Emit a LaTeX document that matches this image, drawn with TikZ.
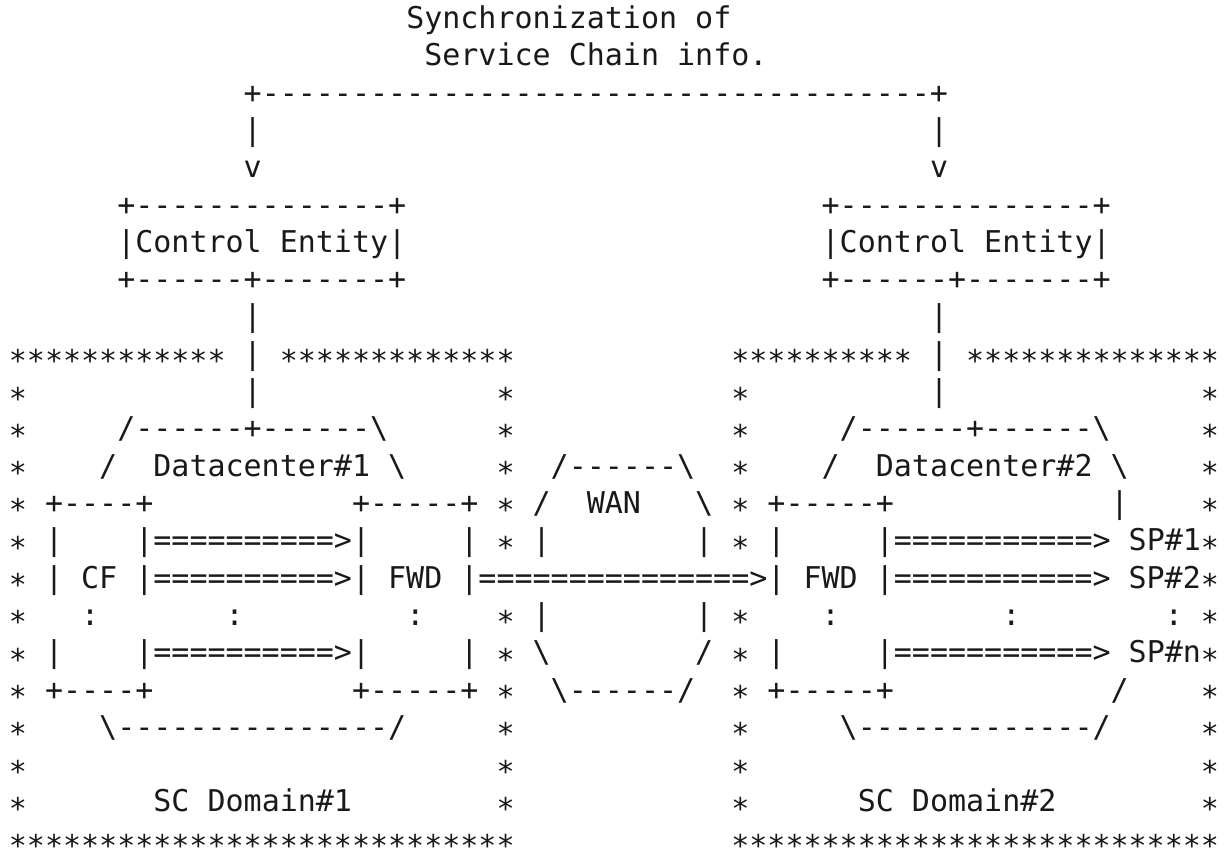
\documentclass[tikz,border=0pt]{standalone}
\usepackage{fontspec}
\setmonofont{DejaVu Sans Mono}
\ExplSyntaxOn
\newcommand\RP[2]{\prg_replicate:nn{#1}{#2}}
\ExplSyntaxOff
\newcommand\SP[1]{\kern#1\fontcharwd\font`x\relax}
\newcommand\B{\textbackslash}
\newcommand\ST{\raisebox{-0.25em}[0.5em][0pt]{*}}
\tikzset{ln/.style={anchor=base west, inner sep=0pt, text=black!90, font=\ttfamily\fontsize{15pt}{18.65pt}\selectfont}}
\begin{document}
\begin{tikzpicture}
\useasboundingbox[fill=white] (0,0) rectangle (613pt,-432.5pt);
\node[ln] (l1) at (4.25pt,-14.30pt) {\SP{22}Synchronization of};
\node[ln] (l2) at (4.25pt,-32.95pt) {\SP{23}Service Chain info.};
\node[ln] (l3) at (4.25pt,-51.60pt) {\SP{13}+\RP{37}{-}+};
\node[ln] (l4) at (4.25pt,-70.25pt) {\SP{13}|\SP{37}|};
\node[ln] (l5) at (4.25pt,-88.90pt) {\SP{13}v\SP{37}v};
\node[ln] (l6) at (4.25pt,-107.55pt) {\SP6+\RP{14}{-}+\SP{23}+\RP{14}{-}+};
\node[ln] (l7) at (4.25pt,-126.20pt) {\SP6|Control Entity|\SP{23}|Control Entity|};
\node[ln] (l8) at (4.25pt,-144.85pt) {\SP6+------+-------+\SP{23}+------+-------+};
\node[ln] (l9) at (4.25pt,-163.50pt) {\SP{13}|\SP{37}|};
\node[ln] (l10) at (4.25pt,-182.15pt) {\RP{12}{\ST}\SP1|\SP1\RP{13}{\ST}\SP{12}\RP{10}{\ST}\SP1|\SP1\RP{14}{\ST}};
\node[ln] (l11) at (4.25pt,-200.80pt) {\ST\SP{12}|\SP{13}\ST\SP{12}\ST\SP{10}|\SP{14}\ST};
\node[ln] (l12) at (4.25pt,-219.45pt) {\ST\SP5/------+------\B\SP6\ST\SP{12}\ST\SP5/------+------\B\SP5\ST};
\node[ln] (l13) at (4.25pt,-238.10pt) {\ST\SP4/\SP2Datacenter\#1\SP1\B\SP5\ST\SP2/------\B\SP2\ST\SP4/\SP2Datacenter\#2\SP1\B\SP4\ST};
\node[ln] (l14) at (4.25pt,-256.75pt) {\ST\SP1+----+\SP{11}+-----+\SP1\ST\SP1/\SP2WAN\SP3\B\SP1\ST\SP1+-----+\SP{12}|\SP4\ST};
\node[ln] (l15) at (4.25pt,-275.40pt) {\ST\SP1|\SP4|\RP{10}{=}>|\SP5|\SP1\ST\SP1|\SP8|\SP1\ST\SP1|\SP5|\RP{11}{=}>\SP1SP\#1\ST};
\node[ln] (l16) at (4.25pt,-294.05pt) {\ST\SP1|\SP1CF\SP1|\RP{10}{=}>|\SP1FWD\SP1|\RP{15}{=}>|\SP1FWD\SP1|\RP{11}{=}>\SP1SP\#2\ST};
\node[ln] (l17) at (4.25pt,-312.70pt) {\ST\SP3:\SP7:\SP9:\SP4\ST\SP1|\SP8|\SP1\ST\SP4:\SP9:\SP8:\SP1\ST};
\node[ln] (l18) at (4.25pt,-331.35pt) {\ST\SP1|\SP4|\RP{10}{=}>|\SP5|\SP1\ST\SP1\B\SP8/\SP1\ST\SP1|\SP5|\RP{11}{=}>\SP1SP\#n\ST};
\node[ln] (l19) at (4.25pt,-350.00pt) {\ST\SP1+----+\SP{11}+-----+\SP1\ST\SP2\B------/\SP2\ST\SP1+-----+\SP{12}/\SP4\ST};
\node[ln] (l20) at (4.25pt,-368.65pt) {\ST\SP4\B\RP{15}{-}/\SP5\ST\SP{12}\ST\SP5\B\RP{13}{-}/\SP5\ST};
\node[ln] (l21) at (4.25pt,-387.30pt) {\ST\SP{26}\ST\SP{12}\ST\SP{25}\ST};
\node[ln] (l22) at (4.25pt,-405.95pt) {\ST\SP7SC Domain\#1\SP8\ST\SP{12}\ST\SP6SC Domain\#2\SP8\ST};
\node[ln] (l23) at (4.25pt,-424.60pt) {\RP{28}{\ST}\SP{12}\RP{27}{\ST}};
\end{tikzpicture}
\end{document}
